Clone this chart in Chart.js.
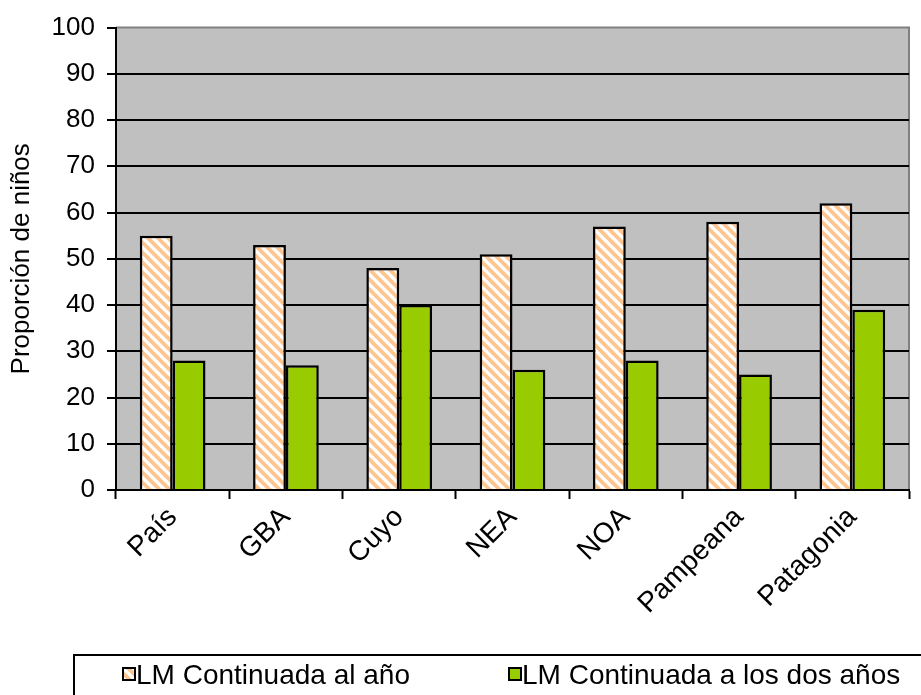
<!DOCTYPE html>
<html>
<head>
<meta charset="utf-8">
<script src="https://cdn.jsdelivr.net/npm/chart.js@4.4.1/dist/chart.umd.min.js"></script>
<style>
  html, body { margin: 0; padding: 0; background: #ffffff; }
  #wrap { width: 921px; height: 695px; }
</style>
</head>
<body>
<div id="wrap"><canvas id="chart" width="921" height="695"></canvas></div>
<script>
// Regions and shares of children still breastfed
const regions = ['País', 'GBA', 'Cuyo', 'NEA', 'NOA', 'Pampeana', 'Patagonia'];
const continuedAtOneYear = [55, 53, 48, 51, 57, 58, 62];
const continuedAtTwoYears = [28, 27, 40, 26, 28, 25, 39];
const seriesNames = ['LM Continuada al año', 'LM Continuada a los dos años'];
const yTitle = 'Proporción de niños';

const FONT = '"Liberation Sans", Arial, Helvetica, sans-serif';
const GREEN = '#99CC00';
const PLOT_BG = '#C0C0C0';

// Diagonal orange hatch on white
function makeHatch() {
  const s = 10;
  const c = document.createElement('canvas');
  c.width = s; c.height = s;
  const g = c.getContext('2d');
  g.fillStyle = '#ffffff';
  g.fillRect(0, 0, s, s);
  g.strokeStyle = '#FFC58F';
  g.lineWidth = 3.8;
  g.lineCap = 'square';
  for (let k = -1; k <= 1; k++) {
    g.beginPath();
    g.moveTo(k * s, 0);
    g.lineTo(k * s + s, s);
    g.stroke();
  }
  return g.createPattern(c, 'repeat');
}
const ctx = document.getElementById('chart').getContext('2d');
const hatch = makeHatch();

// Grey plot background with grey top/right border
const plotBackground = {
  id: 'plotBackground',
  beforeDraw(chart) {
    const a = chart.chartArea;
    const c = chart.ctx;
    c.save();
    c.fillStyle = PLOT_BG;
    c.fillRect(a.left, a.top, a.right - a.left, a.bottom - a.top);
    c.strokeStyle = '#808080';
    c.lineWidth = 2;
    c.beginPath();
    c.moveTo(a.left, a.top);
    c.lineTo(a.right, a.top);
    c.lineTo(a.right, a.bottom);
    c.stroke();
    c.restore();
  }
};

// Framed legend below the category labels
const framedLegend = {
  id: 'framedLegend',
  afterDraw(chart) {
    const c = chart.ctx;
    c.save();
    c.strokeStyle = '#000000';
    c.lineWidth = 2;
    c.strokeRect(74, 655, 900, 80);
    const items = [
      { x: 123, fill: hatch, text: seriesNames[0] },
      { x: 509, fill: GREEN, text: seriesNames[1] }
    ];
    c.font = '28px ' + FONT;
    c.textBaseline = 'middle';
    items.forEach(it => {
      c.fillStyle = it.fill;
      c.fillRect(it.x, 668, 12, 12);
      c.lineWidth = 2;
      c.strokeStyle = '#000000';
      c.strokeRect(it.x, 668, 12, 12);
      c.fillStyle = '#000000';
      c.fillText(it.text, it.x + 13, 676);
    });
    c.restore();
  }
};

new Chart(ctx, {
  type: 'bar',
  data: {
    labels: regions,
    datasets: [
      {
        label: seriesNames[0],
        data: continuedAtOneYear,
        backgroundColor: hatch,
        borderColor: '#000000',
        borderWidth: 2.5,
        borderSkipped: 'bottom'
      },
      {
        label: seriesNames[1],
        data: continuedAtTwoYears,
        backgroundColor: GREEN,
        borderColor: '#000000',
        borderWidth: 2.5,
        borderSkipped: 'bottom'
      }
    ]
  },
  options: {
    responsive: false,
    animation: false,
    devicePixelRatio: 1,
    layout: { padding: { left: 0, top: 27, right: 12, bottom: 0 } },
    datasets: { bar: { categoryPercentage: 0.58, barPercentage: 1.0 } },
    plugins: { legend: { display: false }, tooltip: { enabled: false } },
    scales: {
      x: {
        grid: {
          offset: true,
          drawOnChartArea: false,
          drawTicks: true,
          tickLength: 9,
          tickColor: '#000000',
          tickWidth: 2
        },
        border: { color: '#000000', width: 2 },
        ticks: {
          color: '#000000',
          font: { family: FONT, size: 28 },
          minRotation: 45,
          maxRotation: 45,
          padding: 2
        },
        afterFit(scale) { scale.height = 205; }
      },
      y: {
        min: 0,
        max: 100,
        grid: {
          color: c => (c.tick && (c.tick.value === 100 || c.tick.value === 0)) ? 'rgba(0,0,0,0)' : '#000000',
          lineWidth: 2,
          drawTicks: true,
          tickLength: 9,
          tickColor: '#000000',
          tickWidth: 2
        },
        border: { color: '#000000', width: 2 },
        ticks: {
          stepSize: 10,
          color: '#000000',
          font: { family: FONT, size: 26 },
          padding: 12
        },
        title: {
          display: true,
          text: yTitle,
          color: '#000000',
          font: { family: FONT, size: 26 },
          padding: { top: 6, bottom: 0 }
        },
        afterFit(scale) { scale.width = 116; }
      }
    }
  },
  plugins: [plotBackground, framedLegend]
});
</script>
</body>
</html>
